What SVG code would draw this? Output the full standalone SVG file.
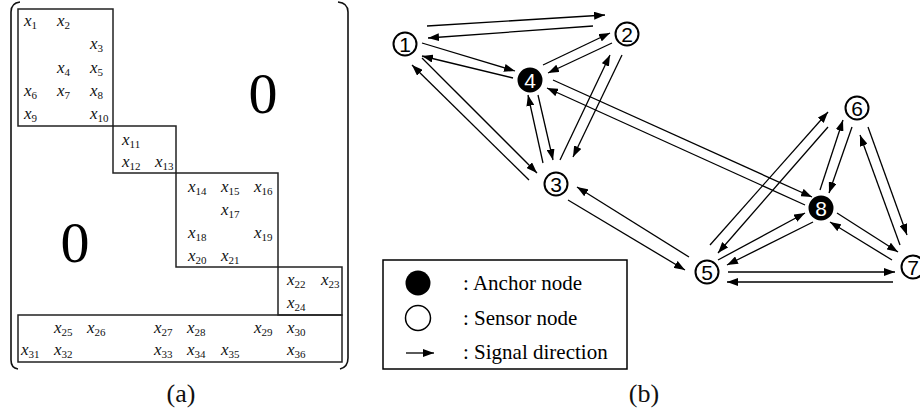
<svg xmlns="http://www.w3.org/2000/svg" width="920" height="415" viewBox="0 0 920 415">
<style>
.bx{fill:none;stroke:#222;stroke-width:1.5}
.par{fill:none;stroke:#111;stroke-width:1.6}
.m{font-family:"Liberation Serif","Times New Roman",serif;font-style:italic;font-size:17px;fill:#111}
.s{font-style:normal;font-size:11px}
.zero{font-family:"Liberation Serif","Times New Roman",serif;font-size:58px;text-anchor:middle;fill:#000}
.cap{font-family:"Liberation Serif","Times New Roman",serif;font-size:26px;text-anchor:middle;fill:#111}
.lg{font-family:"Liberation Serif","Times New Roman",serif;font-size:21px;fill:#000}
.nd{fill:#fff;stroke:#000;stroke-width:2}
.an{fill:#000;stroke:#000;stroke-width:2}
.nt{font-family:"Liberation Sans",Arial,sans-serif;font-size:21px;text-anchor:middle;fill:#000}
.at{font-family:"Liberation Sans",Arial,sans-serif;font-size:21px;text-anchor:middle;fill:#fff}
.e line{stroke:#000;stroke-width:1.3;marker-end:url(#ah)}
</style>
<defs>
<marker id="ah" viewBox="0 0 11 8" refX="11" refY="4" markerWidth="11" markerHeight="8" orient="auto" markerUnits="userSpaceOnUse">
<path d="M0,0 L11,4 L0,8 Z" fill="#000"/>
</marker>
</defs>
<rect width="920" height="415" fill="#fff"/>

<g id="matrix">
<path class="par" d="M20,2 Q11,3 11,12 L11,360 Q11,368 18,369"/>
<path class="par" d="M338,2 Q348,3 348,12 L348,358 Q348,367 340,369"/>
<rect class="bx" x="18" y="9" width="95" height="117"/>
<rect class="bx" x="113" y="126" width="63" height="47"/>
<rect class="bx" x="176" y="173" width="102" height="94"/>
<rect class="bx" x="278" y="267" width="64" height="48"/>
<rect class="bx" x="18" y="315" width="324" height="47"/>
<text class="zero" x="263" y="113">0</text>
<text class="zero" x="75" y="262">0</text>

<text class="m" x="24" y="26">x<tspan class="s" dy="3">1</tspan></text>
<text class="m" x="57" y="26">x<tspan class="s" dy="3">2</tspan></text>
<text class="m" x="90" y="49">x<tspan class="s" dy="3">3</tspan></text>
<text class="m" x="57" y="73">x<tspan class="s" dy="3">4</tspan></text>
<text class="m" x="90" y="73">x<tspan class="s" dy="3">5</tspan></text>
<text class="m" x="24" y="96">x<tspan class="s" dy="3">6</tspan></text>
<text class="m" x="57" y="96">x<tspan class="s" dy="3">7</tspan></text>
<text class="m" x="90" y="96">x<tspan class="s" dy="3">8</tspan></text>
<text class="m" x="24" y="119">x<tspan class="s" dy="3">9</tspan></text>
<text class="m" x="90" y="119">x<tspan class="s" dy="3">10</tspan></text>

<text class="m" x="122" y="145">x<tspan class="s" dy="3">11</tspan></text>
<text class="m" x="122" y="167">x<tspan class="s" dy="3">12</tspan></text>
<text class="m" x="155" y="167">x<tspan class="s" dy="3">13</tspan></text>

<text class="m" x="188" y="192">x<tspan class="s" dy="3">14</tspan></text>
<text class="m" x="221" y="192">x<tspan class="s" dy="3">15</tspan></text>
<text class="m" x="254" y="192">x<tspan class="s" dy="3">16</tspan></text>
<text class="m" x="221" y="215">x<tspan class="s" dy="3">17</tspan></text>
<text class="m" x="188" y="238">x<tspan class="s" dy="3">18</tspan></text>
<text class="m" x="254" y="238">x<tspan class="s" dy="3">19</tspan></text>
<text class="m" x="188" y="261">x<tspan class="s" dy="3">20</tspan></text>
<text class="m" x="221" y="261">x<tspan class="s" dy="3">21</tspan></text>

<text class="m" x="287" y="285">x<tspan class="s" dy="3">22</tspan></text>
<text class="m" x="321" y="285">x<tspan class="s" dy="3">23</tspan></text>
<text class="m" x="287" y="308">x<tspan class="s" dy="3">24</tspan></text>

<text class="m" x="54" y="333">x<tspan class="s" dy="3">25</tspan></text>
<text class="m" x="87" y="333">x<tspan class="s" dy="3">26</tspan></text>
<text class="m" x="154" y="333">x<tspan class="s" dy="3">27</tspan></text>
<text class="m" x="187" y="333">x<tspan class="s" dy="3">28</tspan></text>
<text class="m" x="254" y="333">x<tspan class="s" dy="3">29</tspan></text>
<text class="m" x="287" y="333">x<tspan class="s" dy="3">30</tspan></text>
<text class="m" x="21" y="355">x<tspan class="s" dy="3">31</tspan></text>
<text class="m" x="54" y="355">x<tspan class="s" dy="3">32</tspan></text>
<text class="m" x="154" y="355">x<tspan class="s" dy="3">33</tspan></text>
<text class="m" x="187" y="355">x<tspan class="s" dy="3">34</tspan></text>
<text class="m" x="221" y="355">x<tspan class="s" dy="3">35</tspan></text>
<text class="m" x="287" y="355">x<tspan class="s" dy="3">36</tspan></text>
</g>
<text class="cap" x="181" y="402">(a)</text>
<text class="cap" x="644" y="402">(b)</text>

<g id="connectors" class="e">
<line x1="427" y1="26" x2="605" y2="15"/>
<line x1="593" y1="26" x2="428" y2="38"/>
<line x1="422" y1="43" x2="515" y2="71"/>
<line x1="513" y1="78" x2="422" y2="56"/>
<line x1="543" y1="65" x2="610" y2="33"/>
<line x1="612" y1="43" x2="548" y2="73"/>
<line x1="529" y1="180" x2="412" y2="65"/>
<line x1="422" y1="58" x2="537" y2="173"/>
<line x1="538" y1="95" x2="553" y2="160"/>
<line x1="543" y1="163" x2="528" y2="95"/>
<line x1="560" y1="160" x2="610" y2="55"/>
<line x1="622" y1="55" x2="573" y2="157"/>
<line x1="553" y1="80" x2="812" y2="197"/>
<line x1="805" y1="205" x2="547" y2="88"/>
<line x1="689" y1="257" x2="577" y2="187"/>
<line x1="568" y1="200" x2="685" y2="270"/>
<line x1="710" y1="245" x2="828" y2="112"/>
<line x1="828" y1="127" x2="718" y2="253"/>
<line x1="820" y1="190" x2="843" y2="120"/>
<line x1="852" y1="127" x2="829" y2="193"/>
<line x1="868" y1="127" x2="907" y2="235"/>
<line x1="900" y1="245" x2="860" y2="135"/>
<line x1="718" y1="260" x2="805" y2="213"/>
<line x1="813" y1="222" x2="727" y2="265"/>
<line x1="837" y1="213" x2="898" y2="252"/>
<line x1="892" y1="260" x2="830" y2="222"/>
<line x1="728" y1="272" x2="895" y2="272"/>
<line x1="893" y1="282" x2="727" y2="282"/>
</g>

<g id="node1"><circle class="nd" cx="405" cy="44" r="11.5"/><text class="nt" x="405" y="51.5">1</text></g>
<g id="node2"><circle class="nd" cx="627" cy="34" r="11.5"/><text class="nt" x="627" y="41.5">2</text></g>
<g id="node3"><circle class="nd" cx="556" cy="184" r="11.5"/><text class="nt" x="556" y="191.5">3</text></g>
<g id="node4"><circle class="an" cx="530" cy="80" r="11.5"/><text class="at" x="530" y="87.5">4</text></g>
<g id="node5"><circle class="nd" cx="707" cy="272" r="11.5"/><text class="nt" x="707" y="279.5">5</text></g>
<g id="node6"><circle class="nd" cx="857" cy="108" r="11.5"/><text class="nt" x="857" y="115.5">6</text></g>
<g id="node7"><circle class="nd" cx="913" cy="267" r="11.5"/><text class="nt" x="913" y="274.5">7</text></g>
<g id="node8"><circle class="an" cx="821" cy="208" r="11.5"/><text class="at" x="821" y="215.5">8</text></g>

<g id="legend">
<rect x="383" y="260" width="244" height="109" fill="none" stroke="#000" stroke-width="1.5"/>
<circle cx="418" cy="283" r="12.5" fill="#000"/>
<circle cx="418" cy="318" r="12.5" fill="none" stroke="#000" stroke-width="1.5"/>
<line x1="406" y1="353" x2="434" y2="353" stroke="#000" stroke-width="1.3" marker-end="url(#ah)"/>
<text class="lg" x="463" y="290">: Anchor node</text>
<text class="lg" x="463" y="325">: Sensor node</text>
<text class="lg" x="463" y="359">: Signal direction</text>
</g>
</svg>
